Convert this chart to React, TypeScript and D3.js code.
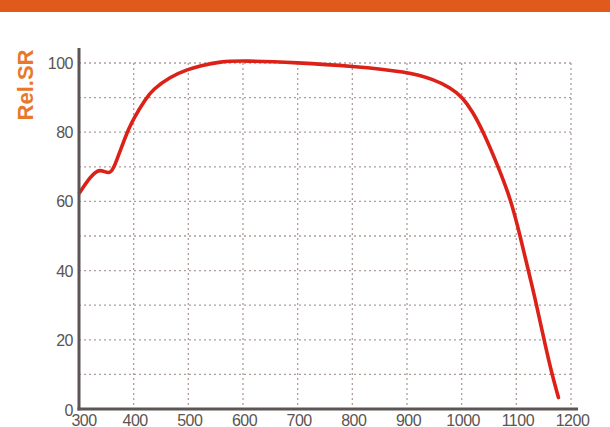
import { useEffect, useRef } from 'react';
import * as d3 from 'd3';

// wavelength (nm) and relative spectral response (%)
const wavelengths = [301, 320, 338, 358, 369, 381, 391, 400, 422, 435, 466, 500, 521, 558, 600, 700, 800, 900, 950, 980, 1000, 1020, 1039, 1067, 1090, 1107, 1122, 1135, 1148, 1162, 1177];
const relSR = [62.5, 67, 69.8, 67.2, 72, 77, 81, 84, 89.7, 92.3, 96, 98.2, 99.2, 100.4, 100.7, 100.1, 99.1, 97.5, 95.2, 92.8, 90.3, 86, 80.3, 70, 60.5, 50, 40, 31.5, 22, 12, 3.3];

const xTicks = [300, 400, 500, 600, 700, 800, 900, 1000, 1100, 1200];
const yTicks = [0, 20, 40, 60, 80, 100];
const yGrid = [10, 20, 30, 40, 50, 60, 70, 80, 90, 100];
const xGrid = [400, 500, 600, 700, 800, 900, 1000, 1100, 1200];

const App = () => {
  const svgRef = useRef<SVGSVGElement>(null);

  useEffect(() => {
    if (!svgRef.current) return;
    const svg = d3.select(svgRef.current);
    svg.selectAll('*').remove();

    const x = d3.scaleLinear().domain([300, 1200]).range([79, 571]);
    const y = d3.scaleLinear().domain([0, 100]).range([409, 63]);

    // top banner
    svg.append('rect')
      .attr('x', 0).attr('y', 0).attr('width', 610).attr('height', 12)
      .attr('fill', '#e05a1c');

    const grid = svg.append('g')
      .attr('stroke', '#ad9f9b')
      .attr('stroke-width', 1.3)
      .attr('stroke-dasharray', '2,3');

    grid.selectAll('line.h')
      .data(yGrid)
      .join('line')
      .attr('class', 'h')
      .attr('x1', x(300)).attr('x2', x(1200))
      .attr('y1', d => y(d)).attr('y2', d => y(d));

    grid.selectAll('line.v')
      .data(xGrid)
      .join('line')
      .attr('class', 'v')
      .attr('x1', d => x(d)).attr('x2', d => x(d))
      .attr('y1', y(100)).attr('y2', y(0));

    // curve
    const pts: [number, number][] = wavelengths.map((w, i) => [w, relSR[i]]);
    const line = d3.line<[number, number]>()
      .x(d => x(d[0]))
      .y(d => y(d[1]))
      .curve(d3.curveBasis);

    svg.append('path')
      .datum(pts)
      .attr('fill', 'none')
      .attr('stroke', '#dc2218')
      .attr('stroke-width', 3.6)
      .attr('stroke-linecap', 'round')
      .attr('stroke-linejoin', 'round')
      .attr('d', line);

    // axes
    svg.append('line')
      .attr('x1', x(300)).attr('x2', x(300))
      .attr('y1', 48).attr('y2', y(0) + 1.5)
      .attr('stroke', '#5d5553').attr('stroke-width', 3);
    svg.append('line')
      .attr('x1', x(300) - 1.5).attr('x2', 578)
      .attr('y1', y(0)).attr('y2', y(0))
      .attr('stroke', '#5d5553').attr('stroke-width', 3);

    const labelFont = '"Liberation Sans", Arial, sans-serif';

    svg.append('g')
      .selectAll('text')
      .data(yTicks)
      .join('text')
      .attr('x', 73)
      .attr('y', d => y(d) + (d === 0 ? 7 : 6))
      .attr('text-anchor', 'end')
      .attr('font-family', labelFont)
      .attr('font-size', 16)
      .attr('letter-spacing', -0.5)
      .attr('fill', '#5b5452')
      .text(d => d);

    svg.append('g')
      .selectAll('text')
      .data(xTicks)
      .join('text')
      .attr('x', d => x(d) + (d === 300 ? 5 : 1.5))
      .attr('y', 426)
      .attr('text-anchor', 'middle')
      .attr('font-family', labelFont)
      .attr('font-size', 16)
      .attr('letter-spacing', -0.5)
      .attr('fill', '#5b5452')
      .text(d => d);

    svg.append('text')
      .attr('transform', 'translate(33,85) rotate(-90)')
      .attr('text-anchor', 'middle')
      .attr('font-family', labelFont)
      .attr('font-weight', 'bold')
      .attr('font-size', 22)
      .attr('fill', '#e8782a')
      .text('Rel.SR');
  }, []);

  return (
    <svg
      ref={svgRef}
      width={610}
      height={427}
      style={{ position: 'absolute', left: 0, top: 0, background: '#fff' }}
    />
  );
};

export default App;
